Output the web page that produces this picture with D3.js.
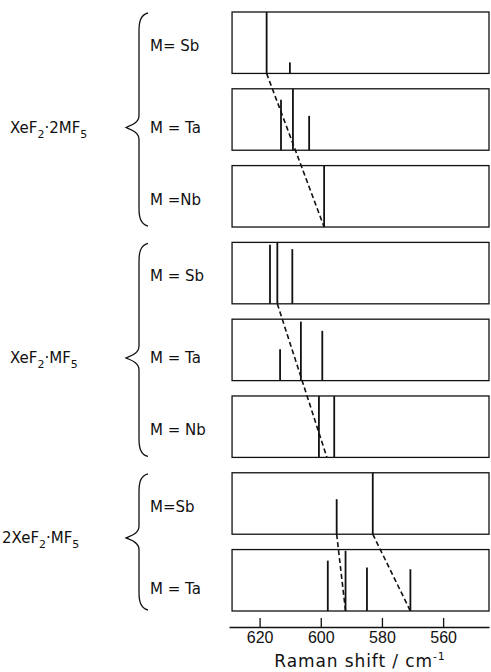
<!DOCTYPE html>
<html>
<head>
<meta charset="utf-8">
<script src="https://cdn.jsdelivr.net/npm/d3@7"></script>
<style>
  body { margin: 0; background: #fff; }
  svg { display: block; font-family: "DejaVu Sans", sans-serif; }
  .axis path, .axis line { stroke: #111; stroke-width: 1.3; }
  .axis text { font-size: 16px; fill: #111; }
</style>
</head>
<body>
<div id="d3-container"></div>
<script>
/**
 * Raman spectra of XeF2 / MF5 adducts, stick plots in 8 stacked panels
 * CONSTANTS AND GLOBALS
 * */
const width = 491,
  height = 672;

// one entry per panel, top to bottom
const panelIds = ["a-Sb", "a-Ta", "a-Nb", "b-Sb", "b-Ta", "b-Nb", "c-Sb", "c-Ta"];
const panelLabels = ["M= Sb", "M = Ta", "M =Nb", "M = Sb", "M = Ta", "M = Nb", "M=Sb", "M = Ta"];

// peak positions (cm-1) and relative heights, per panel
const peakShifts = [
  [617.7, 610.1],
  [613.0, 609.1, 603.8],
  [598.9],
  [616.6, 614.2, 609.3],
  [613.3, 606.5, 599.5],
  [600.6, 595.6],
  [594.8, 583.0],
  [597.7, 591.9, 584.9, 570.7]
];
const peakHeights = [
  [1.0, 0.18],
  [0.82, 1.0, 0.56],
  [1.0],
  [0.96, 1.0, 0.89],
  [0.51, 0.96, 0.81],
  [1.0, 1.0],
  [0.57, 1.0],
  [0.82, 0.98, 0.71, 0.68]
];

// groups: name parts, first and last panel index
const groupNames = [
  ["", "XeF", "2", "·2MF", "5"],
  ["", "XeF", "2", "·MF", "5"],
  ["2", "XeF", "2", "·MF", "5"]
];
const groupFirst = [0, 3, 6];
const groupLast = [2, 5, 7];

// dashed correlation lines: [fromPanel, fromShift, toPanel, toShift]
const links = [
  [0, 617.7, 2, 598.9],
  [3, 614.2, 5, 598.0],
  [6, 594.8, 7, 591.9],
  [6, 583.0, 7, 570.7]
];

const xTicks = [620, 600, 580, 560];

let svg, xScale, yBand, hScale;

function init() {
  svg = d3.select("#d3-container")
    .append("svg")
    .attr("width", width)
    .attr("height", height);

  // SCALES
  xScale = d3.scaleLinear().domain([630, 545]).range([229, 489]);
  yBand = d3.scaleBand().domain(panelIds).range([12, 611]).paddingInner(0.2);
  hScale = d3.scaleLinear().domain([0, 1]).range([0, yBand.bandwidth()]);

  const panelLeft = xScale(629);
  const panelRight = xScale(545);

  // panel frames
  svg.selectAll(".frame")
    .data(panelIds)
    .join("rect")
    .attr("class", "frame")
    .attr("x", panelLeft)
    .attr("y", d => yBand(d))
    .attr("width", panelRight - panelLeft)
    .attr("height", yBand.bandwidth())
    .attr("fill", "none")
    .attr("stroke", "#111")
    .attr("stroke-width", 1.3);

  // peaks
  const peaks = panelIds.flatMap((id, i) =>
    peakShifts[i].map((s, j) => ({ id, shift: s, h: peakHeights[i][j] }))
  );
  svg.selectAll(".peak")
    .data(peaks)
    .join("line")
    .attr("class", "peak")
    .attr("x1", d => xScale(d.shift))
    .attr("x2", d => xScale(d.shift))
    .attr("y1", d => yBand(d.id) + yBand.bandwidth())
    .attr("y2", d => yBand(d.id) + yBand.bandwidth() - hScale(d.h))
    .attr("stroke", "#111")
    .attr("stroke-width", 1.8);

  // dashed correlation lines
  svg.selectAll(".link")
    .data(links)
    .join("line")
    .attr("class", "link")
    .attr("x1", d => xScale(d[1]))
    .attr("y1", d => yBand(panelIds[d[0]]) + yBand.bandwidth())
    .attr("x2", d => xScale(d[3]))
    .attr("y2", d => yBand(panelIds[d[2]]) + yBand.bandwidth())
    .attr("stroke", "#111")
    .attr("stroke-width", 1.6)
    .attr("stroke-dasharray", "5,3");

  // panel labels (a bit below the panel middle, as drawn)
  svg.selectAll(".plabel")
    .data(panelIds)
    .join("text")
    .attr("class", "plabel")
    .attr("x", 150)
    .attr("y", (d, i) => yBand(d) + yBand.bandwidth() / 2 + (panelLabels[i].includes("Ta") ? 8 : 3))
    .attr("dy", "0.35em")
    .attr("font-size", 15)
    .attr("fill", "#111")
    .text((d, i) => panelLabels[i]);

  // braces
  const braceTip = 126, braceSpine = 139, braceEnd = 148;
  const braceY = i => {
    const top = yBand(panelIds[groupFirst[i]]) + 1;
    const bot = yBand(panelIds[groupLast[i]]) + yBand.bandwidth() - 1;
    const n = groupLast[i] - groupFirst[i] + 1;
    return { top, bot, mid: (top + bot) / 2 + (n === 3 ? 8 : -4) };
  };
  svg.selectAll(".brace")
    .data(groupFirst)
    .join("path")
    .attr("class", "brace")
    .attr("fill", "none")
    .attr("stroke", "#111")
    .attr("stroke-width", 1.3)
    .attr("d", (d, i) => {
      const b = braceY(i);
      const p = d3.path();
      p.moveTo(braceEnd, b.top);
      p.bezierCurveTo(braceSpine + 1, b.top + 2, braceSpine, b.top + 10, braceSpine, b.top + 18);
      p.lineTo(braceSpine, b.mid - 12);
      p.bezierCurveTo(braceSpine, b.mid - 4, braceTip + 4, b.mid - 2, braceTip, b.mid);
      p.bezierCurveTo(braceTip + 4, b.mid + 2, braceSpine, b.mid + 4, braceSpine, b.mid + 12);
      p.lineTo(braceSpine, b.bot - 18);
      p.bezierCurveTo(braceSpine, b.bot - 10, braceSpine + 1, b.bot - 2, braceEnd, b.bot);
      return p.toString();
    });

  // group labels
  const glabel = svg.selectAll(".glabel")
    .data(groupNames)
    .join("text")
    .attr("class", "glabel")
    .attr("x", (d, i) => (i === 2 ? 2 : 10))
    .attr("y", (d, i) => braceY(i).mid)
    .attr("dy", "0.35em")
    .attr("font-size", 15)
    .attr("fill", "#111");
  glabel.each(function(parts) {
    const t = d3.select(this);
    if (parts[0]) t.append("tspan").text(parts[0]);
    t.append("tspan").text(parts[1]);
    t.append("tspan").attr("dy", 5).attr("font-size", 11).text(parts[2]);
    t.append("tspan").attr("dy", -5).text(parts[3]);
    t.append("tspan").attr("dy", 5).attr("font-size", 11).text(parts[4]);
  });

  // AXIS
  const xAxis = d3.axisBottom(xScale)
    .tickValues(xTicks)
    .tickSizeInner(-9)
    .tickSizeOuter(0)
    .tickPadding(5);
  svg.append("g")
    .attr("class", "axis x-axis")
    .attr("transform", `translate(0,627)`)
    .call(xAxis);

  const axisLabel = svg.append("text")
    .attr("class", "axis-label")
    .attr("x", 360)
    .attr("y", 667)
    .attr("text-anchor", "middle")
    .attr("font-size", 17)
    .attr("letter-spacing", 0.9)
    .attr("fill", "#111");
  axisLabel.append("tspan").text("Raman shift / cm");
  axisLabel.append("tspan").attr("dy", -7).attr("font-size", 11).text("-1");
}

init();
</script>
</body>
</html>
